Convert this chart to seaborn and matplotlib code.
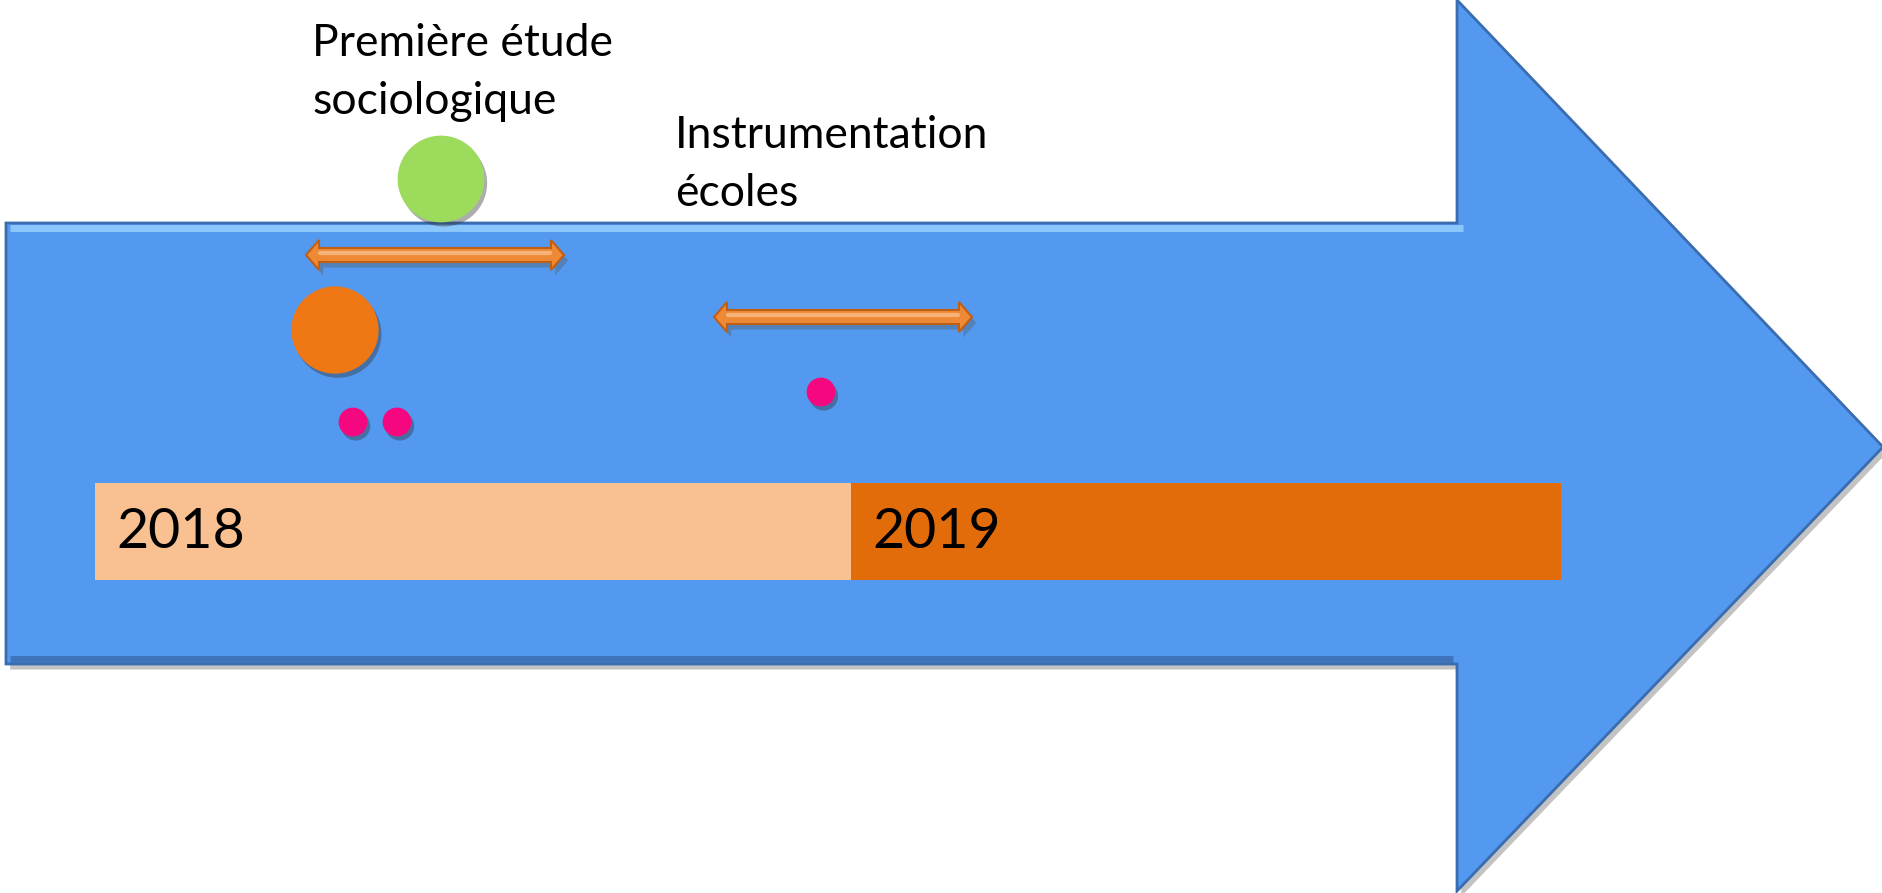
import matplotlib
matplotlib.use("Agg")
import matplotlib.pyplot as plt
import matplotlib.patches as mpatches
import matplotlib.patheffects as pe
import seaborn as sns
import pandas as pd

# Data (canvas units: pixels, y grows downwards)
years = ["2018", "2019"]
year_start = [95, 851]
year_end = [851, 1561]
year_colors = ["#F9C192", "#E36C0A"]

labels = ["Première étude\nsociologique", "Instrumentation\nécoles"]
label_x = [312, 675]
label_y = [23, 115]

period_start = [306, 714]
period_end = [564, 972]
period_y = [255, 317]

marker_x = [441, 335, 353, 397, 821]
marker_y = [179, 330, 422, 422, 392]
marker_kind = ["green", "orange", "dot", "dot", "dot"]

sns.set_theme(style="white")
plt.rcParams['font.family'] = ['Lato', 'DejaVu Sans']

fig = plt.figure(figsize=(18.83, 8.93), dpi=100)
ax = fig.add_axes([0, 0, 1, 1])

shadow = [pe.SimplePatchShadow(offset=(3, -4), shadow_rgbFace="#555555", alpha=0.35), pe.Normal()]

# big timeline arrow
body_top, body_bot, head_x, tip_y = 223, 664, 1457, 447
arrow = mpatches.Polygon(
    [(6, body_top), (head_x, body_top), (head_x, 0), (1883, tip_y), (head_x, 891),
     (head_x, body_bot), (6, body_bot)],
    closed=True, facecolor="#5399F0", edgecolor="#3A6CB0", lw=2, zorder=1)
arrow.set_path_effects(shadow)
ax.add_patch(arrow)
ax.plot([10, head_x + 6], [body_top + 5, body_top + 5], color="#8BC7FB", lw=5, zorder=1.5,
        solid_capstyle="butt")
ax.plot([10, head_x - 4], [body_bot - 5, body_bot - 5], color="#3F74BC", lw=5, zorder=1.5,
        solid_capstyle="butt")

# year bars
ax.barh(y=[531.5] * len(years), width=[e - s for s, e in zip(year_start, year_end)],
        left=year_start, height=97, color=year_colors, linewidth=0, zorder=2)
for yr, s in zip(years, year_start):
    ax.text(s + 21, 533, yr, fontsize=40, va="center", ha="left", color="black", zorder=3)

# period double arrows
def double_arrow(x0, x1, y, body=7, head=15, head_len=13):
    return [(x0, y), (x0 + head_len, y - head), (x0 + head_len, y - body),
            (x1 - head_len, y - body), (x1 - head_len, y - head), (x1, y),
            (x1 - head_len, y + head), (x1 - head_len, y + body),
            (x0 + head_len, y + body), (x0 + head_len, y + head)]

for x0, x1, y in zip(period_start, period_end, period_y):
    p = mpatches.Polygon(double_arrow(x0, x1, y), closed=True, facecolor="#EE8A36",
                         edgecolor="#C05E14", lw=1.5, zorder=3)
    p.set_path_effects(shadow)
    ax.add_patch(p)
    ax.plot([x0 + 14, x1 - 14], [y - 2, y - 2], color="#F7B27A", lw=3, zorder=3.5)

# milestones and dots
df = pd.DataFrame({"x": marker_x, "y": marker_y, "kind": marker_kind})
sns.scatterplot(data=df, x="x", y="y", hue="kind", size="kind",
                palette={"green": "#9CDB5C", "orange": "#F07814", "dot": "#F5077F"},
                sizes={"green": 3900, "orange": 3950, "dot": 430},
                edgecolor="none", linewidth=0, legend=False, ax=ax, zorder=4)
ax.collections[-1].set_path_effects(
    [pe.SimplePatchShadow(offset=(2, -3), shadow_rgbFace="#333333", alpha=0.4), pe.Normal()])

for txt, x, y in zip(labels, label_x, label_y):
    ax.text(x, y, txt, fontsize=32, va="top", ha="left", color="black",
            linespacing=1.5, zorder=5)

ax.set_xlim(0, 1883)
ax.set_ylim(893, 0)
ax.axis("off")

fig.savefig("out.png", dpi=100, facecolor="white")
